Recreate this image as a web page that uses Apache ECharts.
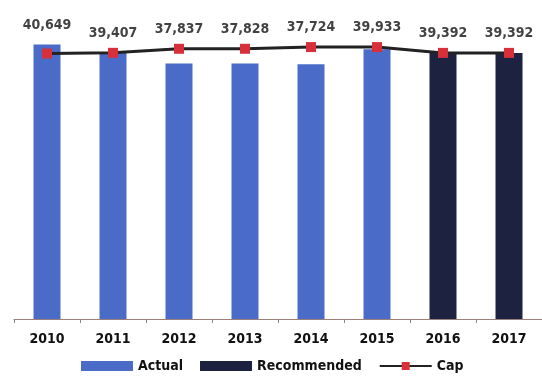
<!DOCTYPE html>
<html>
<head>
<meta charset="utf-8">
<title>Cap chart</title>
<script src="https://cdn.jsdelivr.net/npm/echarts@6/dist/echarts.min.js"></script>
<style>
  html, body { margin: 0; padding: 0; background: #fff; }
</style>
</head>
<body>
<div id="main" style="width:542px;height:376px;"></div>
<script type="text/javascript">
// data
var years = ['2010', '2011', '2012', '2013', '2014', '2015', '2016', '2017'];
var actual = [40649, 39407, 37837, 37828, 37724, 39933, null, null];
var recommended = [null, null, null, null, null, null, 39392, 39392];
var cap = [39300, 39400, 40000, 40000, 40250, 40250, 39392, 39392];

var font = "'DejaVu Sans Condensed', 'DejaVu Sans', sans-serif";
var myChart = echarts.init(document.getElementById('main'));

// value shown above each year = actual or recommended
var shown = years.map(function (y, i) {
  return actual[i] != null ? actual[i] : recommended[i];
});
// labels sit above whichever is higher, bar or cap line
var labelAnchor = years.map(function (y, i) {
  return Math.max(shown[i], cap[i]);
});

var option = {
  animation: false,
  grid: { left: 14, right: -4, top: 15, bottom: 57 },
  legend: {
    top: 354,
    left: 76,
    itemGap: 17,
    itemWidth: 52,
    itemHeight: 10,
    textStyle: { fontFamily: font, fontWeight: 'bold', fontSize: 14, color: '#111' },
    data: [
      { name: 'Actual', icon: 'rect' },
      { name: 'Recommended', icon: 'rect' },
      { name: 'Cap' }
    ]
  },
  xAxis: {
    type: 'category',
    data: years,
    axisLine: { lineStyle: { color: '#9a8078', width: 1.2 } },
    axisTick: { show: true, length: 4, lineStyle: { color: '#9a8078' } },
    axisLabel: { fontFamily: font, fontWeight: 'bold', fontSize: 14, color: '#111', margin: 13 }
  },
  yAxis: {
    type: 'value',
    min: 0,
    max: 45000,
    show: false,
    splitLine: { show: false }
  },
  series: [
    {
      name: 'Actual',
      type: 'bar',
      data: actual,
      barWidth: 27,
      barGap: '-100%',
      itemStyle: { color: '#4a6cc8' }
    },
    {
      name: 'Recommended',
      type: 'bar',
      data: recommended,
      barWidth: 27,
      itemStyle: { color: '#1d2240' }
    },
    {
      name: 'Cap',
      type: 'line',
      data: cap,
      symbol: 'rect',
      symbolSize: 10,
      lineStyle: { color: '#222', width: 3 },
      itemStyle: { color: '#d8303a' },
      z: 5
    },
    {
      name: 'labels',
      type: 'scatter',
      data: labelAnchor,
      symbolSize: 1,
      itemStyle: { color: 'rgba(0,0,0,0)' },
      silent: true,
      label: {
        show: true,
        position: 'top',
        distance: 12,
        fontFamily: font,
        fontWeight: 'bold',
        fontSize: 14,
        color: '#111',
        formatter: function (p) {
          return shown[p.dataIndex].toLocaleString('en-US');
        }
      }
    }
  ]
};

myChart.setOption(option);
</script>
</body>
</html>
